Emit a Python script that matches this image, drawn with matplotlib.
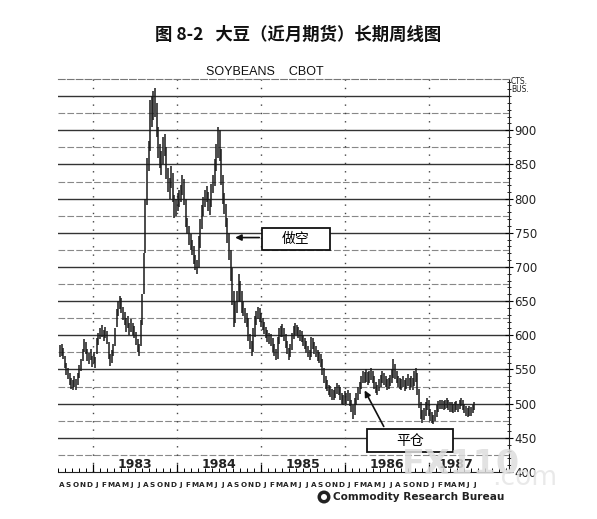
import matplotlib
matplotlib.use("Agg")
import matplotlib.pyplot as plt
import matplotlib.patches as mpatches
import numpy as np
import pandas as pd

# ---------------- data ----------------
start_date = "1982-08-10"
week_high = [586, 588, 582, 570, 560, 552, 545, 538, 534, 540, 536, 545, 556, 566, 580, 594, 590, 580, 574, 580,
             570, 576, 568, 596, 604, 610, 615, 608, 612, 606, 590, 572, 578, 588, 610, 638, 650, 658, 655, 642,
             634, 625, 628, 618, 624, 618, 614, 605, 594, 588, 622, 660, 720, 800, 860, 885, 945, 950, 958, 962,
             940, 905, 880, 870, 890, 895, 875, 845, 830, 848, 838, 805, 800, 808, 812, 820, 835, 828, 800, 772,
             760, 748, 740, 730, 718, 710, 745, 770, 790, 802, 812, 818, 810, 800, 822, 835, 858, 880, 905, 900,
             872, 835, 808, 792, 772, 750, 725, 698, 665, 648, 665, 690, 680, 665, 650, 640, 632, 625, 602, 592,
             610, 628, 636, 642, 640, 632, 626, 620, 612, 608, 604, 602, 596, 588, 580, 598, 610, 614, 616, 610,
             602, 592, 582, 588, 604, 614, 618, 615, 612, 608, 606, 600, 596, 592, 584, 578, 598, 596, 590, 584,
             578, 576, 572, 566, 552, 540, 534, 528, 526, 522, 520, 525, 530, 528, 524, 516, 512, 518, 516, 520,
             515, 506, 498, 508, 516, 524, 532, 540, 548, 546, 550, 546, 548, 552, 548, 540, 532, 528, 536, 542,
             548, 545, 540, 536, 538, 542, 550, 565, 558, 548, 540, 538, 536, 540, 535, 538, 544, 538, 540, 538,
             548, 552, 545, 522, 502, 490, 494, 502, 508, 505, 492, 488, 484, 490, 498, 504, 506, 506, 504, 506,
             508, 505, 502, 502, 500, 502, 504, 500, 506, 508, 505, 500, 496, 494, 496, 495, 498, 502]
week_low = [568, 570, 565, 552, 542, 536, 528, 522, 520, 524, 520, 528, 538, 548, 562, 576, 572, 562, 558, 564,
            554, 560, 552, 572, 586, 594, 598, 592, 596, 588, 566, 555, 560, 570, 585, 612, 628, 638, 632, 622,
            615, 605, 610, 600, 605, 600, 596, 586, 576, 570, 585, 615, 660, 720, 790, 840, 870, 905, 915, 920,
            890, 860, 845, 835, 850, 862, 828, 810, 800, 815, 795, 772, 775, 782, 788, 795, 805, 790, 758, 748,
            732, 725, 718, 705, 695, 690, 698, 728, 755, 775, 788, 795, 782, 776, 788, 808, 818, 840, 860, 855,
            820, 792, 778, 758, 735, 710, 680, 645, 612, 618, 632, 648, 648, 632, 628, 618, 612, 592, 580, 569,
            575, 598, 615, 624, 620, 612, 608, 602, 596, 590, 588, 584, 576, 570, 564, 566, 588, 598, 598, 592,
            582, 572, 564, 568, 578, 594, 600, 600, 596, 592, 590, 584, 580, 574, 568, 564, 568, 580, 572, 568,
            562, 560, 554, 542, 530, 522, 518, 512, 510, 506, 505, 508, 514, 512, 506, 500, 498, 500, 500, 504,
            496, 488, 478, 484, 498, 506, 514, 522, 530, 530, 532, 528, 530, 535, 530, 522, 515, 512, 518, 525,
            530, 528, 524, 520, 522, 526, 530, 538, 536, 530, 524, 522, 520, 524, 518, 522, 526, 520, 524, 520,
            526, 532, 512, 494, 478, 472, 476, 482, 490, 482, 474, 472, 470, 474, 480, 488, 492, 492, 490, 492,
            494, 490, 488, 488, 486, 488, 490, 488, 492, 496, 490, 486, 482, 480, 482, 482, 486, 490]

month_letters = list("ASOND") + list("JFMAMJJASOND") * 4 + list("JFMAMJJ")
year_labels = ["1983", "1984", "1985", "1986", "1987"]
year_label_pos = [11, 23, 35, 47, 56.8]     # month index (0 = Aug 1982)
year_bounds = [5, 17, 29, 41, 53]
price_ticks = [400, 450, 500, 550, 600, 650, 700, 750, 800, 850, 900]

title = "图 8-2   大豆（近月期货）长期周线图"
subtitle = "SOYBEANS    CBOT"

# ---------------- figure ----------------
W, H = 597, 519
fig = plt.figure(figsize=(W / 100, H / 100), dpi=100)
fig.patch.set_facecolor("white")
ax = fig.add_axes([58 / W, 1 - 472 / H, (509 - 58) / W, (472 - 79) / H])

dates = pd.date_range(start_date, periods=len(week_high), freq="7D")
xpos = np.array([(d.year - 1982) * 12 + (d.month - 8) + (d.day - 1) / d.days_in_month for d in dates])

ax.set_xlim(0, 64.4)
ax.set_ylim(400, 975)

# gridlines
for p in range(425, 975, 25):
    if p % 50 == 0:
        ax.axhline(p, color="#333333", lw=1.0, zorder=1)
    else:
        ax.axhline(p, color="#888888", lw=0.8, ls=(0, (6, 2)), zorder=1)
for b in year_bounds:
    ax.axvline(b, color="#444444", lw=1.0, ls=(0, (1, 5)), zorder=1)

# price bars
ax.vlines(xpos, week_low, week_high, color="#1a1a1a", lw=1.1, zorder=3)

# spines
ax.spines["left"].set_visible(False)
ax.spines["top"].set_color("#777777")
ax.spines["top"].set_linestyle((0, (6, 2)))
ax.spines["top"].set_linewidth(0.8)
ax.spines["right"].set_color("#222222")
ax.spines["bottom"].set_color("#222222")

# y axis on right
ax.yaxis.tick_right()
ax.set_yticks(price_ticks)
ax.set_yticklabels([str(v) for v in price_ticks], fontsize=8.5, color="#222222")
ax.set_yticks(np.arange(400, 976, 10), minor=True)
ax.tick_params(axis="y", which="major", direction="inout", length=6, pad=1, width=0.8)
ax.tick_params(axis="y", which="minor", direction="inout", length=3, width=0.6)

# x axis ticks
ax.set_xticks(year_bounds)
ax.set_xticklabels([])
ax.set_xticks(np.arange(0, 65, 1), minor=True)
ax.tick_params(axis="x", which="major", direction="in", length=6, width=0.9)
ax.tick_params(axis="x", which="minor", direction="in", length=3, width=0.7)

for i, letter in enumerate(month_letters):
    ax.text(i + 0.5, -0.025, letter, transform=ax.get_xaxis_transform(), ha="center", va="top",
            fontsize=5.2, fontweight="bold", color="#222222")
for lab, pos in zip(year_labels, year_label_pos):
    ax.text(pos, 401, lab, ha="center", va="bottom", fontsize=9, fontweight="bold", color="#222222")

# annotations
ax.add_patch(mpatches.Rectangle((29.14, 725.5), 9.72, 32.2, facecolor="white", edgecolor="#111111",
                                lw=1.3, zorder=5))
ax.text(34.0, 741.6, "做空", ha="center", va="center", fontsize=10,
        family=["Noto Sans CJK SC", "DejaVu Sans"], zorder=6)
ax.annotate("", xy=(24.9, 743), xytext=(29.14, 743),
            arrowprops=dict(arrowstyle="-|>", color="#111111", lw=1.2, mutation_scale=9), zorder=6)

ax.add_patch(mpatches.Rectangle((44.14, 429.3), 12.29, 33.7, facecolor="white", edgecolor="#111111",
                                lw=1.3, zorder=5))
ax.text(50.3, 445.5, "平仓", ha="center", va="center", fontsize=10,
        family=["Noto Sans CJK SC", "DejaVu Sans"], zorder=6)
ax.annotate("", xy=(43.6, 523), xytext=(46.7, 463),
            arrowprops=dict(arrowstyle="-|>", color="#111111", lw=1.2, mutation_scale=9), zorder=6)

# texts
fig.text(298 / W, 1 - 35 / H, title, ha="center", va="center", fontsize=12.5, fontweight="bold",
         family=["Noto Sans CJK SC", "DejaVu Sans"], color="#111111")
fig.text(265 / W, 1 - 72 / H, subtitle, ha="center", va="center", fontsize=9, color="#111111",
         family=["Liberation Sans", "DejaVu Sans"])
fig.text(511 / W, 1 - 82 / H, "CTS.", ha="left", va="center", fontsize=5.5, color="#222222")
fig.text(511 / W, 1 - 90 / H, "BUS.", ha="left", va="center", fontsize=5.5, color="#222222")

# Commodity Research Bureau logo
fig.patches.append(mpatches.Circle((3.24, (H - 497) / 100), 0.065, transform=fig.dpi_scale_trans,
                                   facecolor="#222222", edgecolor="none"))
fig.patches.append(mpatches.Circle((3.24, (H - 497) / 100), 0.03, transform=fig.dpi_scale_trans,
                                   facecolor="white", edgecolor="none"))
fig.text(333 / W, 1 - 497 / H, "Commodity Research Bureau", ha="left", va="center", fontsize=7.6,
         fontweight="bold", color="#222222")

# watermark
fig.text(402 / W, 1 - 465 / H, "FX110", ha="left", va="center", fontsize=24, fontweight="bold",
         color="#dddddd", alpha=0.85, zorder=10)
fig.text(492 / W, 1 - 478 / H, ".com", ha="left", va="center", fontsize=19,
         color="#e6e6e6", alpha=0.85, zorder=10)

fig.savefig("out.png", dpi=100, facecolor="white")
